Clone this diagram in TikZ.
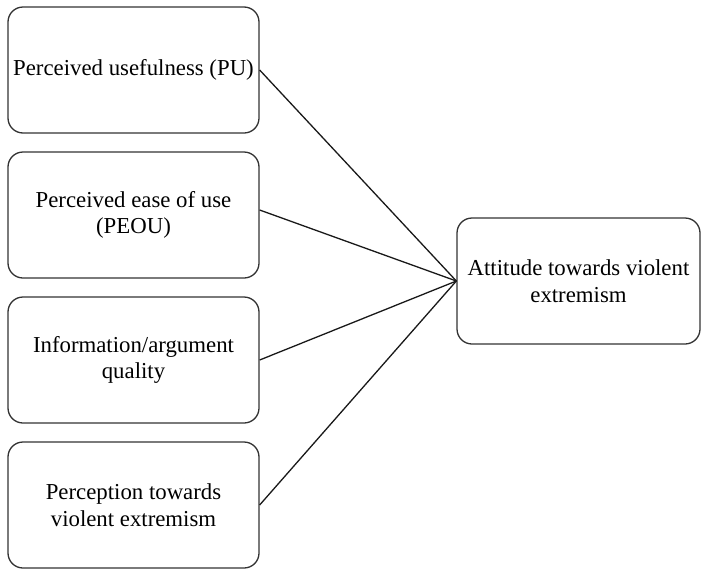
\documentclass[tikz,border=0pt]{standalone}
\usepackage{fontspec}
\setmainfont{Liberation Serif}
\begin{document}
\begin{tikzpicture}[x=1pt,y=1pt,
  boxnode/.style={draw=black!80, line width=1.3pt, rounded corners=15pt,
    minimum width=251pt, minimum height=126pt, inner sep=0pt, align=center,
    font=\fontsize{22.8}{26.5}\selectfont},
  link/.style={draw=black!90, line width=1.3pt}]
\useasboundingbox (0,0) rectangle (701,-568);
\node[boxnode] (b1) at (133.5,-70) {Perceived usefulness (PU)};
\node[boxnode] (b2) at (133.5,-215) {Perceived ease of use\\(PEOU)};
\node[boxnode] (b3) at (133.5,-360) {Information/argument\\quality};
\node[boxnode] (b4) at (133.5,-505) {Perception towards\\violent extremism};
\node[boxnode, minimum width=243pt] (r) at (578.5,-281) {Attitude towards violent\\extremism};
\draw[link] (b1.east) -- (r.west);
\draw[link] ([yshift=5pt]b2.east) -- (r.west);
\draw[link] (b3.east) -- (r.west);
\draw[link] (b4.east) -- (r.west);
\end{tikzpicture}
\end{document}
